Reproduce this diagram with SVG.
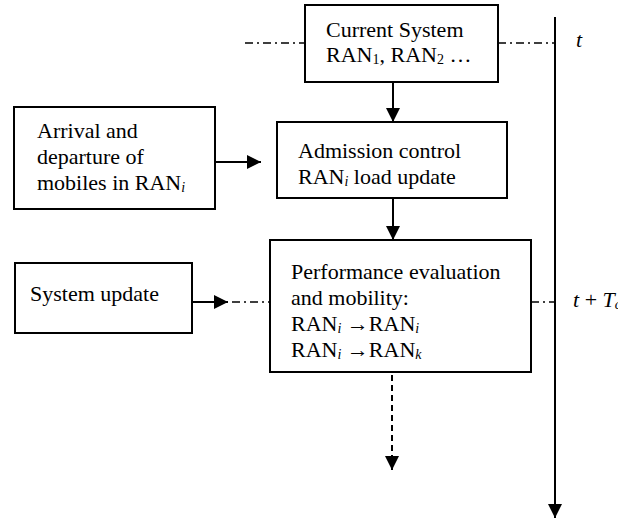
<svg xmlns="http://www.w3.org/2000/svg" width="618" height="519" viewBox="0 0 618 519">
<style>
.box{fill:#fff;stroke:#000;stroke-width:2}
.t{font-family:"Liberation Serif","Times New Roman",serif;font-size:22px;fill:#000}
.s{font-size:14px}
.ln{stroke:#000;stroke-width:2;fill:none}
.dd{stroke:#000;stroke-width:1.6;fill:none;stroke-dasharray:8 4 2 4}
.da{stroke:#000;stroke-width:2;fill:none;stroke-dasharray:6 4}
</style>
<defs>
<marker id="ah" markerUnits="userSpaceOnUse" markerWidth="14" markerHeight="14" refX="14" refY="7" orient="auto">
<path d="M0,0 L14,7 L0,14 Z" fill="#000"/>
</marker>
</defs>
<g id="connectors">
<line class="dd" x1="245" y1="43" x2="305" y2="43"/>
<line class="dd" x1="498" y1="43" x2="555" y2="43"/>
<line class="ln" x1="555" y1="17" x2="555" y2="518" marker-end="url(#ah)"/>
<line class="ln" x1="393" y1="82" x2="393" y2="122" marker-end="url(#ah)"/>
<line class="ln" x1="215" y1="162" x2="261" y2="162" marker-end="url(#ah)"/>
<line class="ln" x1="393" y1="198" x2="393" y2="240" marker-end="url(#ah)"/>
<line class="ln" x1="192" y1="302" x2="228" y2="302" marker-end="url(#ah)"/>
<line class="dd" x1="232" y1="302" x2="270" y2="302"/>
<line class="dd" x1="531" y1="302" x2="555" y2="302"/>
<line class="da" x1="392" y1="375" x2="392" y2="470" marker-end="url(#ah)"/>
</g>
<g id="current">
<rect class="box" x="305" y="5" width="193" height="77"/>
<text class="t" x="326" y="37">Current System</text>
<text class="t" x="326" y="62">RAN<tspan class="s" dy="2">1</tspan><tspan dy="-2">, RAN</tspan><tspan class="s" dy="2">2</tspan><tspan dy="-2"> …</tspan></text>
</g>
<g id="arrival">
<rect class="box" x="14" y="107" width="201" height="102"/>
<text class="t" x="37" y="138">Arrival and</text>
<text class="t" x="37" y="164">departure of</text>
<text class="t" x="37" y="190">mobiles in RAN<tspan class="s" font-style="italic" dy="2">i</tspan></text>
</g>
<g id="admission">
<rect class="box" x="277" y="122" width="230" height="76"/>
<text class="t" x="298" y="158">Admission control</text>
<text class="t" x="298" y="184">RAN<tspan class="s" font-style="italic" dy="2">i</tspan><tspan dy="-2"> load update</tspan></text>
</g>
<g id="sysupdate">
<rect class="box" x="15" y="263" width="177" height="70"/>
<text class="t" x="30" y="301">System update</text>
</g>
<g id="perf">
<rect class="box" x="270" y="240" width="261" height="132"/>
<text class="t" x="291" y="279">Performance evaluation</text>
<text class="t" x="291" y="305">and mobility:</text>
<text class="t" x="291" y="331">RAN<tspan class="s" font-style="italic" dy="2">i</tspan><tspan dy="-2"> →RAN</tspan><tspan class="s" font-style="italic" dy="2">i</tspan></text>
<text class="t" x="291" y="357">RAN<tspan class="s" font-style="italic" dy="2">i</tspan><tspan dy="-2"> →RAN</tspan><tspan class="s" font-style="italic" dy="2">k</tspan></text>
</g>
<g id="labels">
<text class="t" x="576" y="47" font-style="italic">t</text>
<text class="t" x="573" y="307"><tspan font-style="italic">t</tspan> + <tspan font-style="italic">T</tspan><tspan class="s" font-style="italic" dy="2">c</tspan></text>
</g>
</svg>
